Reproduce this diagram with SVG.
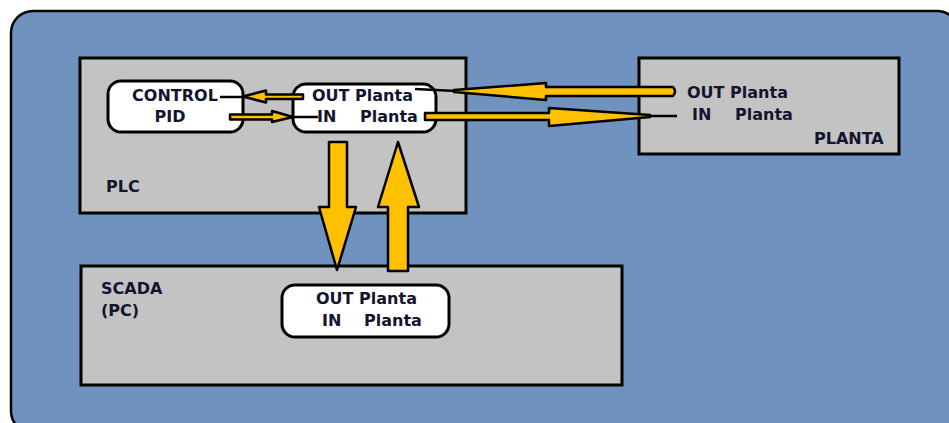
<svg xmlns="http://www.w3.org/2000/svg" width="949" height="423" viewBox="0 0 949 423">
<style>
.box{fill:#c3c3c3;stroke:#000;stroke-width:3}
.rb{fill:#fff;stroke:#000;stroke-width:3}
.t{font-family:"DejaVu Sans","Liberation Sans",sans-serif;font-weight:bold;font-size:16px;fill:#14142e}
.arr{fill:#ffc000;stroke:#000;stroke-width:2.5;stroke-linejoin:round}
.ln{stroke:#000;stroke-width:2.5;fill:none}
</style>
<rect width="949" height="423" fill="#fff"/>
<rect x="11" y="11" width="948" height="422" rx="22" fill="#6f92be" stroke="#000" stroke-width="2.5"/>
<g id="plc">
<rect class="box" x="80" y="58" width="386" height="155"/>
<text class="t" x="106" y="192">PLC</text>
</g>
<g id="planta">
<rect class="box" x="639" y="58" width="260" height="96"/>
<text class="t" x="687" y="98">OUT Planta</text>
<text class="t" x="692" y="120">IN</text>
<text class="t" x="735" y="120">Planta</text>
<text class="t" x="814" y="144">PLANTA</text>
</g>
<g id="scada">
<rect class="box" x="81" y="266" width="541" height="119"/>
<text class="t" x="101" y="294">SCADA</text>
<text class="t" x="101" y="316">(PC)</text>
</g>
<g id="control-pid">
<rect class="rb" x="108" y="81" width="135" height="51" rx="13"/>
<text class="t" x="175" y="101" text-anchor="middle">CONTROL</text>
<text class="t" x="170" y="122" text-anchor="middle">PID</text>
</g>
<g id="plc-io">
<rect class="rb" x="293" y="84" width="143" height="48" rx="13"/>
<text class="t" x="312" y="101">OUT Planta</text>
<text class="t" x="317" y="122">IN</text>
<text class="t" x="360" y="122">Planta</text>
</g>
<g id="scada-io">
<rect class="rb" x="282" y="285" width="167" height="52" rx="13"/>
<text class="t" x="316" y="304">OUT Planta</text>
<text class="t" x="322" y="326">IN</text>
<text class="t" x="364" y="326">Planta</text>
</g>
<g id="connectors">
<line class="ln" x1="456" y1="91" x2="415" y2="89"/>
<path class="arr" d="M673,87 L546,87 L546,83 L454,90 L454,92 L546,100 L546,96 L673,96 Q677,91.5 673,87 Z"/>
<line class="ln" x1="648" y1="116" x2="677" y2="116"/>
<path class="arr" d="M425,113 L549,113 L549,108 L650,115 L650,117 L549,126 L549,120 L425,120 Z"/>
<line class="ln" x1="245" y1="97" x2="220" y2="97"/>
<path class="arr" d="M303,94.5 L266,94.5 L266,90.5 L243,96.5 L266,102.5 L266,99 L303,99 Z"/>
<line class="ln" x1="291" y1="117" x2="318" y2="117"/>
<path class="arr" d="M230,114.5 L272,114.5 L272,111 L293,117 L272,122 L272,119.5 L230,119.5 Z"/>
<path class="arr" d="M329,142 L347,142 L347,207 L356,207 L337,270 L319,207 L329,207 Z"/>
<path class="arr" d="M388,271 L408,271 L408,207 L419,207 L398,142 L378,207 L388,207 Z"/>
</g>
</svg>
